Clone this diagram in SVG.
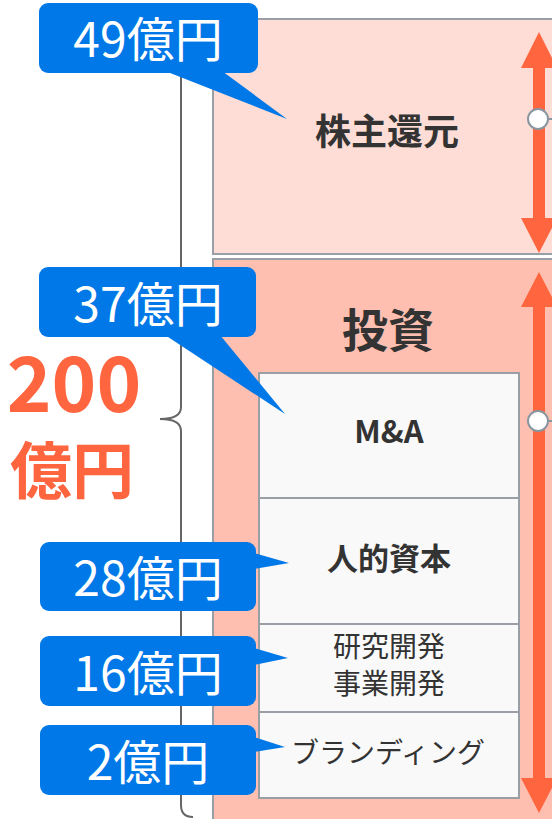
<svg xmlns="http://www.w3.org/2000/svg" width="552" height="819" viewBox="0 0 552 819">
<style>
.jp{font-family:"Noto Sans CJK JP","Noto Sans",sans-serif}
.bub{fill:#0078E7}
.bt{fill:#fff;font-size:48px;text-anchor:middle}
.box{stroke:#9a9fa5;stroke-width:2}
.inner{fill:#F9F9F9;stroke:#9a9fa5;stroke-width:2}
.lbl{fill:#333;text-anchor:middle}
.arr{fill:#FF653F}
.knob{fill:#fff;stroke:#8a96a0;stroke-width:2}
</style>
<g id="shareholder-return">
<rect class="box" x="213" y="19" width="345" height="235" fill="#FDDDD6"/>
<text class="jp lbl" x="387" y="145" font-size="36" font-weight="bold">株主還元</text>
</g>
<g id="investment">
<rect class="box" x="213" y="259" width="345" height="570" fill="#FEBFB0"/>
<text class="jp lbl" x="388" y="347" font-size="46" font-weight="bold">投資</text>
</g>
<g id="ma">
<rect class="inner" x="259" y="373" width="260" height="125"/>
<text class="jp lbl" x="389" y="443" font-size="31" font-weight="bold">M&amp;A</text>
</g>
<g id="human-capital">
<rect class="inner" x="259" y="498" width="260" height="126"/>
<text class="jp lbl" x="389" y="570" font-size="31" font-weight="bold">人的資本</text>
</g>
<g id="rd">
<rect class="inner" x="259" y="624" width="260" height="88"/>
<text class="jp lbl" x="389" y="657" font-size="28">研究開発</text>
<text class="jp lbl" x="389" y="694" font-size="28">事業開発</text>
</g>
<g id="branding">
<rect class="inner" x="259" y="712" width="260" height="86"/>
<text class="jp lbl" x="388" y="763" font-size="28">ブランディング</text>
</g>
<g id="total">
<text class="jp" x="74" y="412" font-size="76" font-weight="bold" fill="#FF653F" text-anchor="middle">200</text>
<text class="jp" x="72" y="494" font-size="62" font-weight="bold" fill="#FF653F" text-anchor="middle">億円</text>
</g>
<g id="connectors">
<path d="M193 20 Q181 20 181 32 L181 407 Q181 419 160 419 Q181 419 181 431 L181 805 Q181 817 193 817" fill="none" stroke="#666" stroke-width="2"/>
<g id="arrow-top">
<rect class="arr" x="533" y="66" width="12" height="154"/>
<polygon class="arr" points="539,32 521,68 557,68"/>
<polygon class="arr" points="521,218 557,218 539,253"/>
<line x1="548" y1="119" x2="552" y2="119" stroke="#8a96a0" stroke-width="2"/>
<circle class="knob" cx="538" cy="119" r="10"/>
</g>
<g id="arrow-bottom">
<rect class="arr" x="533" y="305" width="12" height="475"/>
<polygon class="arr" points="539,272 521,307 557,307"/>
<polygon class="arr" points="521,778 557,778 539,813"/>
<line x1="548" y1="421" x2="552" y2="421" stroke="#8a96a0" stroke-width="2"/>
<circle class="knob" cx="538" cy="421" r="10"/>
</g>
</g>
<g id="callout-49">
<rect class="bub" x="39" y="3" width="219" height="70" rx="9"/>
<polygon class="bub" points="165,71 222,71 287,119"/>
<text class="jp bt" x="148" y="57">49億円</text>
</g>
<g id="callout-37">
<rect class="bub" x="39" y="267" width="217" height="70" rx="9"/>
<polygon class="bub" points="165,335 220,335 285,414"/>
<text class="jp bt" x="148" y="322">37億円</text>
</g>
<g id="callout-28">
<rect class="bub" x="40" y="542" width="216" height="69" rx="9"/>
<polygon class="bub" points="254,553 254,569 289,563"/>
<text class="jp bt" x="148" y="596">28億円</text>
</g>
<g id="callout-16">
<rect class="bub" x="40" y="636" width="216" height="70" rx="9"/>
<polygon class="bub" points="254,648 254,665 288,658"/>
<text class="jp bt" x="148" y="691">16億円</text>
</g>
<g id="callout-2">
<rect class="bub" x="40" y="725" width="216" height="70" rx="9"/>
<polygon class="bub" points="254,737 254,752 285,747"/>
<text class="jp bt" x="148" y="780">2億円</text>
</g>
</svg>
